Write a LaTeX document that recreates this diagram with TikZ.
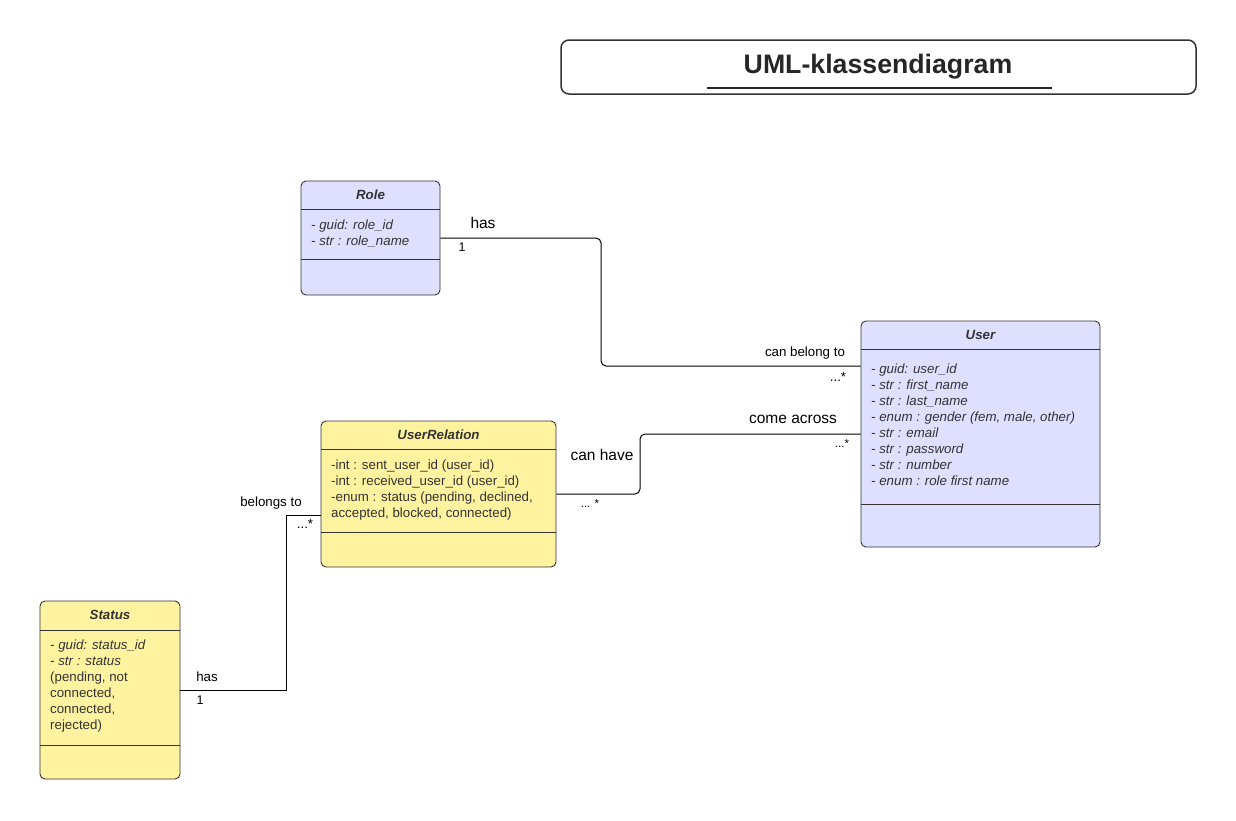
\documentclass[tikz,border=0pt]{standalone}
\usepackage{fontspec}
\setmainfont{Liberation Sans}
\definecolor{rolefill}{HTML}{DFDFFF}
\definecolor{statfill}{HTML}{FFF3A0}
\definecolor{ink}{HTML}{333333}
\begin{document}
\begin{tikzpicture}[x=1pt, y=-1pt,
  every node/.style={font=\fontsize{13.3}{16}\selectfont, text=ink},
  cls/.style={draw=ink, line width=0.9pt, rounded corners=5pt, inner sep=0pt},
  clstitle/.style={font=\fontsize{13.3}{15}\selectfont\bfseries\itshape},
  attr/.style={anchor=north west, align=left, inner sep=0pt},
  assoc/.style={draw=black, line width=1pt, rounded corners=5pt},
  lbl/.style={inner sep=0pt, text=black},
  biglbl/.style={font=\fontsize{15.5}{18}\selectfont, inner sep=0pt, text=black}]
\useasboundingbox (0,0) rectangle (1236,820);
% title frame
\node[draw=ink, line width=1.5pt, rounded corners=8pt, minimum width=635pt, minimum height=54pt] (frame) at (878.5,67) {};
\node[font=\fontsize{26.7}{30}\selectfont\bfseries, text=black!85] (title) at (878,67) {UML-klassendiagram};
\draw[line width=2pt, black!85] (707,88) -- (1052,88);
% Role
\node[cls, fill=rolefill, minimum width=139pt, minimum height=114pt] (role) at (370.5,238) {};
\draw[ink] ([yshift=-29pt]role.north west) -- ([yshift=-29pt]role.north east);
\draw[ink] ([yshift=-79pt]role.north west) -- ([yshift=-79pt]role.north east);
\node[clstitle] (roletitle) at (370.5,195) {Role};
\node[attr, font=\fontsize{13.3}{16}\selectfont\itshape] (roleattr) at (311,220) {- guid: role\_id\\- str : role\_name};
% User
\node[cls, fill=rolefill, minimum width=239pt, minimum height=226pt] (user) at (980.5,434) {};
\draw[ink] ([yshift=-29pt]user.north west) -- ([yshift=-29pt]user.north east);
\draw[ink] ([yshift=-184pt]user.north west) -- ([yshift=-184pt]user.north east);
\node[clstitle] (usertitle) at (980.5,335) {User};
\node[attr, font=\fontsize{13.3}{16}\selectfont\itshape] (userattr) at (871,364) {- guid: user\_id\\- str : first\_name\\- str : last\_name\\- enum : gender (fem, male, other)\\- str : email\\- str : password\\- str : number\\- enum : role first name};
% UserRelation
\node[cls, fill=statfill, minimum width=235pt, minimum height=146pt] (rel) at (438.5,494) {};
\draw[ink] ([yshift=-29pt]rel.north west) -- ([yshift=-29pt]rel.north east);
\draw[ink] ([yshift=-112pt]rel.north west) -- ([yshift=-112pt]rel.north east);
\node[clstitle] (reltitle) at (438.5,435) {UserRelation};
\node[attr] (relattr) at (331,460) {-int : sent\_user\_id (user\_id)\\-int : received\_user\_id (user\_id)\\-enum : status (pending, declined,\\accepted, blocked, connected)};
% Status
\node[cls, fill=statfill, minimum width=140pt, minimum height=178pt] (status) at (110,690) {};
\draw[ink] ([yshift=-30pt]status.north west) -- ([yshift=-30pt]status.north east);
\draw[ink] ([yshift=-145pt]status.north west) -- ([yshift=-145pt]status.north east);
\node[clstitle] (stattitle) at (110,615) {Status};
\node[attr] (statattr) at (50,640) {{\itshape - guid: status\_id}\\{\itshape - str : status}\\(pending, not\\connected,\\connected,\\rejected)};
% associations
\draw[assoc] (role.east) -- (601,238) -- (601,366) -- ([yshift=68pt]user.west);
\draw[assoc] (rel.east) -- (640,494) -- (640,434) -- (user.west);
\draw[assoc, rounded corners=0pt] (status.east) -- (286,690) -- (286,515) -- ([yshift=-21pt]rel.west);
% multiplicities and roles
\node[biglbl] (hasrole) at (483,223) {has};
\node[lbl, font=\fontsize{12.5}{14}\selectfont] (onerole) at (462,247) {1};
\node[lbl] (belong) at (805,353) {can belong to};
\node[lbl] (manyuser) at (838,377) {...*};
\node[biglbl] (across) at (793,419) {come across};
\node[lbl, font=\fontsize{11.5}{13}\selectfont] (manyacross) at (842,444) {...*};
\node[biglbl] (canhave) at (602,455) {can have};
\node[lbl, font=\fontsize{11.5}{13}\selectfont] (manyrel) at (590,504) {... *};
\node[lbl] (belongsto) at (271,503) {belongs to};
\node[lbl] (manystat) at (305,524) {...*};
\node[lbl] (hasstat) at (207,677) {has};
\node[lbl, font=\fontsize{12.5}{14}\selectfont] (onestat) at (200,700) {1};
\end{tikzpicture}
\end{document}
